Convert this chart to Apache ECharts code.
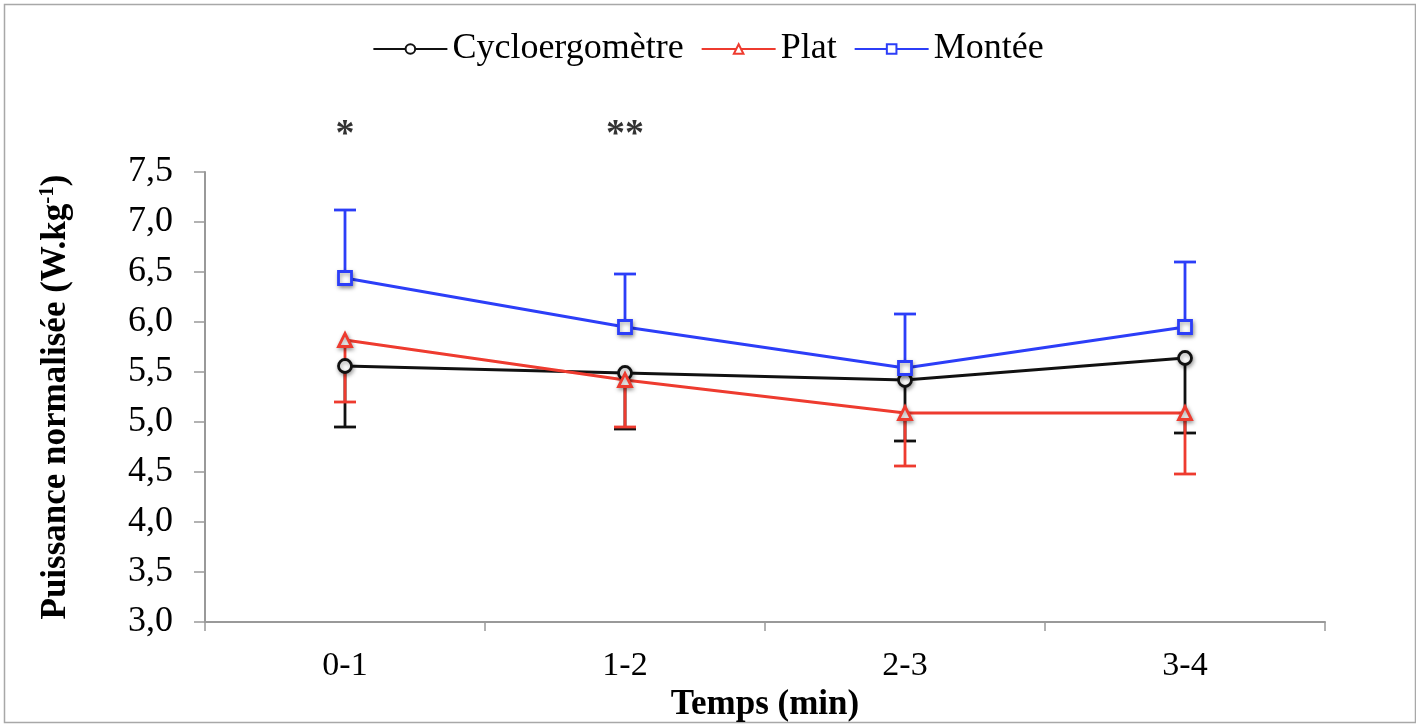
<!DOCTYPE html>
<html>
<head>
<meta charset="utf-8">
<script src="https://cdn.jsdelivr.net/npm/echarts@6/dist/echarts.min.js"></script>
<style>
html,body{margin:0;padding:0;background:#fff;}
#chart{width:1416px;height:724px;}
</style>
</head>
<body>
<div id="chart"></div>
<script>
const categories = ['0-1', '1-2', '2-3', '3-4'];
const yTicks = ['3,0','3,5','4,0','4,5','5,0','5,5','6,0','6,5','7,0','7,5'];
const cycloMean = [5.56, 5.49, 5.42, 5.64];
const cycloLow  = [4.95, 4.93, 4.81, 4.89];
const platMean  = [5.82, 5.42, 5.09, 5.09];
const platLow   = [5.20, 4.95, 4.56, 4.48];
const monteeMean = [6.44, 5.95, 5.54, 5.95];
const monteeHigh = [7.12, 6.48, 6.08, 6.60];
const signifLabels = ['*', '**', '', ''];
const signifLevel = 7.87;

const FONT = '"Liberation Serif", "DejaVu Serif", serif';
const BLACK = '#111111', RED = '#ee3b2f', BLUE = '#2c3ef8';

function errSeries(name, means, ends, color) {
  return {
    type: 'custom',
    name: name,
    z: 1,
    silent: true,
    data: means.map((m, i) => [i, m, ends[i]]),
    renderItem: function (params, api) {
      const a = api.coord([api.value(0), api.value(1)]);
      const b = api.coord([api.value(0), api.value(2)]);
      const hw = 11;
      return {
        type: 'group',
        children: [
          { type: 'line', shape: { x1: a[0], y1: a[1], x2: b[0], y2: b[1] }, style: { stroke: color, lineWidth: 2.8 } },
          { type: 'line', shape: { x1: b[0] - hw, y1: b[1], x2: b[0] + hw, y2: b[1] }, style: { stroke: color, lineWidth: 2.8 } }
        ]
      };
    }
  };
}

function lineSeries(name, data, color, symbol) {
  return {
    type: 'line',
    name: name,
    z: 3,
    data: data,
    symbol: symbol,
    symbolSize: 13,
    showAllSymbol: true,
    lineStyle: { color: color, width: 2.8 },
    itemStyle: { color: '#fff', borderColor: color, borderWidth: 2.8, shadowColor: 'rgba(0,0,0,0.35)', shadowBlur: 4, shadowOffsetX: 1, shadowOffsetY: 2 },
    emphasis: { disabled: true }
  };
}

const chart = echarts.init(document.getElementById('chart'));
chart.setOption({
  animation: false,
  backgroundColor: '#fff',
  graphic: [{
    type: 'rect', left: 2, top: 2, silent: true,
    shape: { width: 1411, height: 718 },
    style: { fill: 'none', stroke: '#a8a8a8', lineWidth: 1.5 }
  }],
  legend: {
    top: 26,
    left: 'center',
    itemWidth: 74,
    itemHeight: 12,
    itemGap: 17,
    data: ['Cycloergomètre', 'Plat', 'Montée'],
    textStyle: { fontFamily: FONT, fontSize: 36, color: '#000' }
  },
  grid: { left: 205, right: 91, top: 172, bottom: 102, containLabel: false, outerBoundsMode: 'none' },
  xAxis: {
    type: 'category',
    data: categories,
    boundaryGap: true,
    axisLine: { lineStyle: { color: '#999', width: 2 } },
    axisTick: { show: true, length: 9, lineStyle: { color: '#999', width: 1.5 } },
    axisLabel: { fontFamily: FONT, fontSize: 34, color: '#000', margin: 27 },
    name: 'Temps (min)',
    nameLocation: 'middle',
    nameGap: 63,
    nameTextStyle: { fontFamily: FONT, fontSize: 35, fontWeight: 'bold', color: '#000' }
  },
  yAxis: {
    type: 'value',
    min: 3.0,
    max: 7.5,
    interval: 0.5,
    splitLine: { show: false },
    axisLine: { show: true, lineStyle: { color: '#999', width: 2 } },
    axisTick: { show: true, length: 11, lineStyle: { color: '#999', width: 1.5 } },
    axisLabel: {
      fontFamily: FONT, fontSize: 36, color: '#000', margin: 32,
      formatter: function (v) { return yTicks[Math.round((v - 3.0) / 0.5)]; }
    },
    name: 'Puissance normalisée (W.kg{sup|-1})',
    nameLocation: 'middle',
    nameGap: 131,
    nameRotate: 90,
    nameTextStyle: {
      fontFamily: FONT, fontSize: 35, fontWeight: 'bold', color: '#000',
      rich: { sup: { fontFamily: FONT, fontSize: 21, fontWeight: 'bold', color: '#000', verticalAlign: 'top', padding: [0, 0, 16, 0] } }
    }
  },
  series: [
    errSeries('errCyclo', cycloMean, cycloLow, BLACK),
    errSeries('errPlat', platMean, platLow, RED),
    errSeries('errMontee', monteeMean, monteeHigh, BLUE),
    lineSeries('Cycloergomètre', cycloMean, BLACK, 'circle'),
    lineSeries('Plat', platMean, RED, 'triangle'),
    lineSeries('Montée', monteeMean, BLUE, 'rect'),
    {
      type: 'scatter',
      name: 'signif',
      clip: false,
      silent: true,
      symbolSize: 1,
      itemStyle: { color: 'rgba(0,0,0,0)' },
      data: signifLabels.map((s, i) => [i, signifLevel]).filter((d, i) => signifLabels[i] !== ''),
      label: {
        show: true, position: 'inside',
        formatter: function (p) { return signifLabels[p.dataIndex]; },
        fontFamily: FONT, fontSize: 38, fontWeight: 'bold', color: '#000'
      }
    }
  ]
});
</script>
</body>
</html>
